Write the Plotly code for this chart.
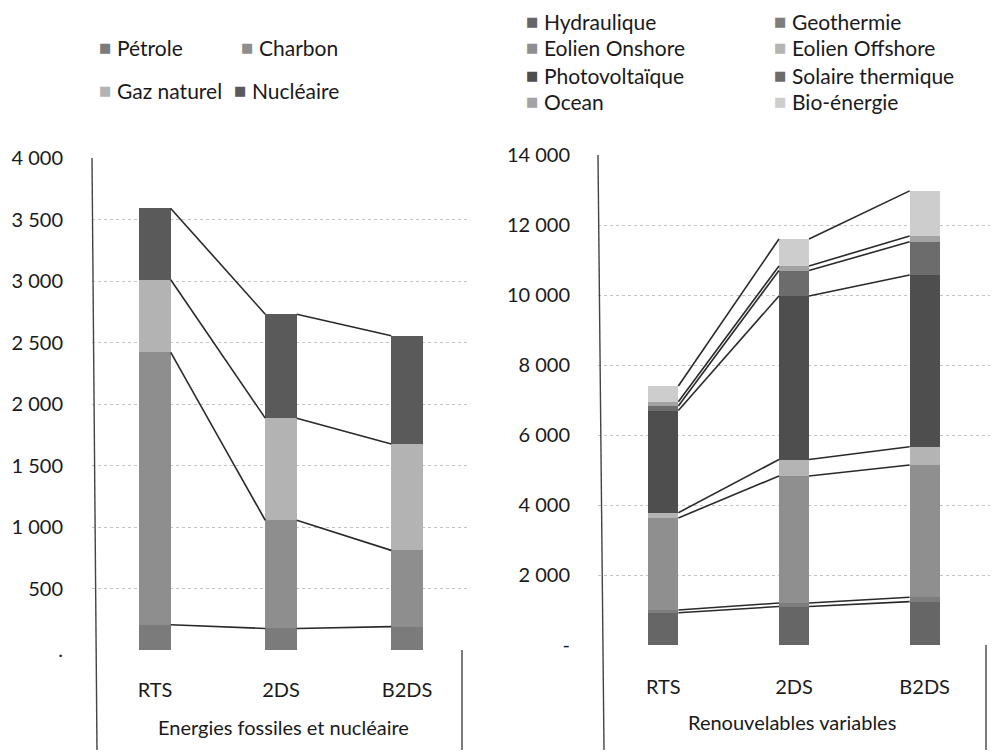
import plotly.graph_objects as go

W, H = 995, 753

scenarios = ["RTS", "2DS", "B2DS"]

# Left panel: Energies fossiles et nucléaire
fossil_names = ["Pétrole", "Charbon", "Gaz naturel", "Nucléaire"]
petrole = [205, 175, 190]
charbon = [2215, 880, 620]
gaz_naturel = [590, 830, 865]
nucleaire = [580, 845, 880]
fossil_values = [petrole, charbon, gaz_naturel, nucleaire]
fossil_colors = ["#7b7b7b", "#8e8e8e", "#b3b3b3", "#5a5a5a"]
left_tickvals = [0, 500, 1000, 1500, 2000, 2500, 3000, 3500, 4000]
left_ticktext = [".", "500", "1 000", "1 500", "2 000", "2 500", "3 000", "3 500", "4 000"]

# Right panel: Renouvelables variables
renew_names = ["Hydraulique", "Geothermie", "Eolien Onshore", "Eolien Offshore",
               "Photovoltaïque", "Solaire thermique", "Ocean", "Bio-énergie"]
hydraulique = [920, 1100, 1240]
geothermie = [80, 100, 125]
eolien_onshore = [2630, 3630, 3780]
eolien_offshore = [150, 470, 520]
photovoltaique = [2920, 4670, 4905]
solaire_thermique = [130, 730, 950]
ocean = [120, 130, 165]
bio_energie = [450, 770, 1290]
renew_values = [hydraulique, geothermie, eolien_onshore, eolien_offshore,
                photovoltaique, solaire_thermique, ocean, bio_energie]
renew_colors = ["#666666", "#7d7d7d", "#8f8f8f", "#b4b4b4",
                "#4e4e4e", "#6c6c6c", "#a3a3a3", "#cdcdcd"]
right_tickvals = [0, 2000, 4000, 6000, 8000, 10000, 12000, 14000]
right_ticktext = ["-", "2 000", "4 000", "6 000", "8 000", "10 000", "12 000", "14 000"]

FONT = "Lato"
TXT = "#1a1a1a"


def px(x):
    return x / W


def py(y):
    return 1 - y / H


fig = go.Figure()
xs = list(range(len(scenarios)))


def add_panel(names, values, colors, xaxis, yaxis, width):
    cum = [0] * len(scenarios)
    for name, vals, col in zip(names, values, colors):
        fig.add_trace(go.Bar(x=xs, y=vals, name=name, marker_color=col,
                             marker_line_width=0, width=width,
                             xaxis=xaxis, yaxis=yaxis, showlegend=False))
        cum = [c + v for c, v in zip(cum, vals)]
        lx, ly = [], []
        for i in range(len(scenarios) - 1):
            lx += [xs[i] + width / 2, xs[i + 1] - width / 2, None]
            ly += [cum[i], cum[i + 1], None]
        fig.add_trace(go.Scatter(x=lx, y=ly, mode="lines",
                                 line=dict(color="#2a2a2a", width=1.6),
                                 xaxis=xaxis, yaxis=yaxis, showlegend=False,
                                 hoverinfo="skip"))


add_panel(fossil_names, fossil_values, fossil_colors, "x", "y", 0.25)
add_panel(renew_names, renew_values, renew_colors, "x2", "y2", 0.23)

axis_font = dict(family=FONT, size=20, color=TXT)
grid = dict(showgrid=True, gridcolor="#c4c4c4", griddash="dot", gridwidth=1,
            zeroline=False, ticks="", tickfont=axis_font, automargin=False)

fig.update_layout(
    barmode="stack",
    width=W, height=H, autosize=False,
    margin=dict(l=0, r=0, t=0, b=0, pad=0, autoexpand=False),
    paper_bgcolor="white", plot_bgcolor="white",
    font=dict(family=FONT, color=TXT),
    showlegend=False,
    xaxis=dict(domain=[px(92), px(470)], range=[-0.5, 2.5], tickvals=xs,
               ticktext=scenarios, showgrid=False, zeroline=False, ticks="",
               tickfont=axis_font, ticklabelstandoff=26, anchor="y",
               automargin=False),
    yaxis=dict(domain=[py(650), py(158)], range=[0, 4000], tickvals=left_tickvals,
               ticktext=left_ticktext, ticklabelstandoff=28, anchor="x", **grid),
    xaxis2=dict(domain=[px(598), px(990)], range=[-0.5, 2.5], tickvals=xs,
                ticktext=scenarios, showgrid=False, zeroline=False, ticks="",
                tickfont=axis_font, ticklabelstandoff=28, anchor="y2",
                automargin=False),
    yaxis2=dict(domain=[py(645), py(155)], range=[0, 14000], tickvals=right_tickvals,
                ticktext=right_ticktext, ticklabelstandoff=27, anchor="x2", **grid),
)

# Axis lines and category boxes
line_style = dict(color="#444444", width=1.4)
for x0, y0, x1, y1 in [(92, 158, 97, 750), (462, 650, 462, 750),
                       (598, 155, 604, 750), (986, 645, 986, 750)]:
    fig.add_shape(type="line", xref="paper", yref="paper",
                  x0=px(x0), y0=py(y0), x1=px(x1), y1=py(y1), line=line_style)

# Group titles
fig.add_annotation(text="Energies fossiles et nucléaire", x=px(283), y=py(727),
                   xref="paper", yref="paper", showarrow=False,
                   xanchor="center", yanchor="middle",
                   font=dict(family=FONT, size=20, color=TXT))
fig.add_annotation(text="Renouvelables variables", x=px(792), y=py(722),
                   xref="paper", yref="paper", showarrow=False,
                   xanchor="center", yanchor="middle",
                   font=dict(family=FONT, size=20, color=TXT))

# Legends (drawn as text)
left_pos = [(105, 48), (247, 48), (105, 90), (240, 90)]
right_pos = [(532, 22), (780, 22), (532, 48), (780, 48),
             (532, 75), (780, 75), (532, 101), (780, 101)]


def add_legend(names, colors, positions):
    for name, col, (x, y) in zip(names, colors, positions):
        fig.add_annotation(text="■", x=px(x), y=py(y), xref="paper", yref="paper",
                           showarrow=False, xanchor="center", yanchor="middle",
                           font=dict(family="DejaVu Sans", size=13, color=col))
        fig.add_annotation(text=name, x=px(x + 10), y=py(y), xref="paper",
                           yref="paper", showarrow=False, xanchor="left",
                           yanchor="middle",
                           font=dict(family=FONT, size=21, color=TXT))


add_legend(fossil_names, fossil_colors, left_pos)
add_legend(renew_names, renew_colors, right_pos)

fig.write_html("out.html", config={"displayModeBar": False},
               post_script="document.body.style.margin='0';")
